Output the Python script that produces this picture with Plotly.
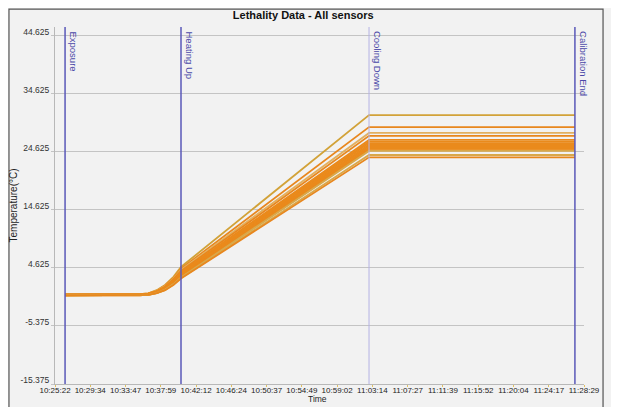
import plotly.graph_objects as go

DAY = "2020-01-01 "

tick_labels = ["10:25:22", "10:29:34", "10:33:47", "10:37:59", "10:42:12", "10:46:24",
               "10:50:37", "10:54:49", "10:59:02", "11:03:14", "11:07:27", "11:11:39",
               "11:15:52", "11:20:04", "11:24:17", "11:28:29"]

y_ticks = [-15.375, -5.375, 4.625, 14.625, 24.625, 34.625, 44.625]

event_names = ["Exposure", "Heating Up", "Cooling Down", "Calibration End"]
event_times = ["10:26:34", "10:40:24", "11:02:50", "11:27:24"]
event_colors = ["#5a58b8", "#5a58b8", "#b4b2e4", "#5a58b8"]

sensor_times = ["10:26:34", "10:35:30", "10:36:30", "10:37:30", "10:38:30", "10:39:30",
                "10:40:24", "11:02:50", "11:27:24"]

sensor_values = {
    "S1":  [0.1, 0.1, 0.25, 0.8, 1.7, 3.1, 4.8, 30.98, 30.98],
    "S2":  [0.1, 0.1, 0.25, 0.7, 1.6, 2.9, 4.5, 28.9, 28.9],
    "S3":  [0.0, 0.0, 0.2, 0.7, 1.5, 2.8, 4.3, 27.9, 27.9],
    "S4":  [0.0, 0.0, 0.2, 0.6, 1.4, 2.7, 4.1, 27.4, 27.4],
    "S5":  [0.0, 0.0, 0.2, 0.6, 1.4, 2.5, 3.9, 26.7, 26.7],
    "S6":  [0.0, 0.0, 0.15, 0.6, 1.3, 2.4, 3.8, 26.4, 26.4],
    "S7":  [0.0, 0.0, 0.15, 0.5, 1.2, 2.3, 3.6, 26.15, 26.15],
    "S8":  [0.0, 0.0, 0.15, 0.5, 1.2, 2.2, 3.5, 25.9, 25.9],
    "S9":  [0.0, 0.0, 0.1, 0.5, 1.1, 2.1, 3.4, 25.65, 25.65],
    "S10": [-0.1, -0.1, 0.05, 0.4, 1.0, 2.0, 3.3, 25.4, 25.4],
    "S11": [-0.1, -0.1, 0.05, 0.4, 1.0, 2.0, 3.2, 25.15, 25.15],
    "S12": [-0.1, -0.1, 0.0, 0.35, 0.9, 1.9, 3.1, 24.95, 24.95],
    "S13": [-0.1, -0.1, 0.0, 0.3, 0.9, 1.8, 3.0, 24.8, 24.8],
    "S14": [-0.1, -0.1, 0.0, 0.3, 0.8, 1.8, 2.9, 24.1, 24.1],
    "S15": [-0.1, -0.1, 0.0, 0.3, 0.8, 1.7, 2.8, 23.7, 23.7],
}
sensor_colors = {
    "S1": "#d2a238", "S2": "#e8871e", "S3": "#e2b060", "S4": "#e8871e",
    "S5": "#ea8a1c", "S6": "#ea8a1c", "S7": "#ea8a1c", "S8": "#ea8a1c",
    "S9": "#ea8a1c", "S10": "#ea8a1c", "S11": "#ea8a1c", "S12": "#ea8a1c",
    "S13": "#d9a84a", "S14": "#d9a84a", "S15": "#e8871e",
}

fig = go.Figure()
xs = [DAY + t for t in sensor_times]
for name, vals in sensor_values.items():
    fig.add_trace(go.Scatter(x=xs, y=vals, mode="lines", name=name,
                             line=dict(color=sensor_colors[name], width=1.8),
                             showlegend=False, hoverinfo="skip"))

for name, t, c in zip(event_names, event_times, event_colors):
    fig.add_shape(type="line", xref="x", yref="paper", x0=DAY + t, x1=DAY + t,
                  y0=0, y1=1, line=dict(color=c, width=1.5 if c != "#b4b2e4" else 1))
    fig.add_annotation(x=DAY + t, y=1, xref="x", yref="paper", text=name,
                       textangle=90, showarrow=False, xanchor="left", yanchor="top",
                       xshift=1, yshift=-2,
                       font=dict(family="Liberation Sans, Arial", size=9.5, color="#4a48a8"))

# x-axis title placed as annotation so that it stays inside the window
fig.add_annotation(x=0.497, y=-0.0630, xref="paper", yref="paper", text="Time",
                   showarrow=False, xanchor="center", yanchor="bottom",
                   font=dict(family="Liberation Sans, Arial", size=8.5, color="#222222"))

# outer frame (page has an 8px body margin; plot area fig coords x 47..576, y 19..376)
fig.add_shape(type="rect", xref="paper", yref="paper", x0=-0.087, x1=1.036,
              y0=-0.12, y1=1.050, line=dict(color="#555555", width=1.2),
              fillcolor="rgba(0,0,0,0)", layer="below")

fig.update_layout(
    width=619, height=407,
    margin=dict(l=47, r=43, t=19, b=31, autoexpand=False),
    paper_bgcolor="#f2f2f2", plot_bgcolor="#f2f2f2",
    title=dict(text="<b>Lethality Data - All sensors</b>", x=0.477, xanchor="center",
               y=0.983, yanchor="middle",
               font=dict(family="Liberation Sans, Arial", size=11, color="#111111")),
    font=dict(family="Liberation Sans, Arial", size=8, color="#333333"),
)
fig.update_xaxes(
    type="date", range=[DAY + tick_labels[0], DAY + tick_labels[-1]],
    tickvals=[DAY + t for t in tick_labels], ticktext=tick_labels,
    tickangle=0, showgrid=False, zeroline=False, automargin=False,
    showline=True, linecolor="#b8b8b8", linewidth=1,
    ticks="outside", ticklen=2, tickcolor="#e0c060", ticklabelstandoff=-4,
    tickfont=dict(size=8, color="#222222"),
)
fig.update_yaxes(
    range=[-15.375, 46.16], tickvals=y_ticks,
    ticktext=[f"{v:.3f}" for v in y_ticks],
    showgrid=True, gridcolor="#c4c4c4", gridwidth=1, zeroline=False, automargin=False,
    showline=True, linecolor="#b8b8b8", linewidth=1,
    ticks="outside", ticklen=3, tickcolor="#c4c4c4", ticklabelshift=-4,
    tickfont=dict(size=8.5, color="#333333"),
    title=dict(text="Temperature(°C)", standoff=4, font=dict(size=10, color="#222222")),
)

fig.write_html("out.html")
